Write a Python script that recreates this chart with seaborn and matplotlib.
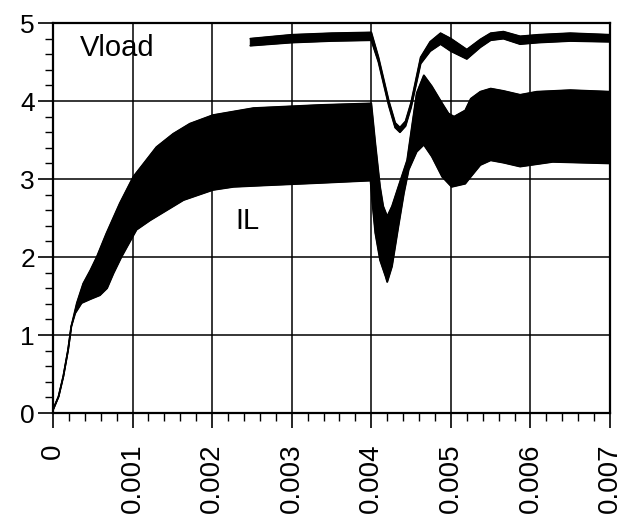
import numpy as np
import matplotlib
matplotlib.use("Agg")
import matplotlib.pyplot as plt
import seaborn as sns
from matplotlib.ticker import MultipleLocator

# IL ripple envelope (upper / lower edge), time in s
il_up_t = [0.0, 0.00007, 0.00013, 0.00019, 0.00023, 0.0003, 0.00038, 0.00047, 0.00055,
           0.00067, 0.00084, 0.00101, 0.00114, 0.0013, 0.00151, 0.00172, 0.00201,
           0.00252, 0.00336, 0.0040, 0.00405, 0.00411, 0.00415, 0.0042, 0.00426,
           0.00434, 0.00445, 0.00451, 0.00457, 0.00466, 0.00476, 0.00489, 0.00497,
           0.00504, 0.00518, 0.00525, 0.00537, 0.0055, 0.00566, 0.00587, 0.00608,
           0.0065, 0.0070]
il_up = [0.04, 0.21, 0.47, 0.81, 1.11, 1.41, 1.66, 1.83, 2.0,
         2.3, 2.69, 3.03, 3.2, 3.41, 3.58, 3.71, 3.82,
         3.91, 3.95, 3.97, 3.46, 2.9, 2.65, 2.52, 2.65,
         2.9, 3.24, 3.67, 4.1, 4.33, 4.19, 3.97, 3.84,
         3.80, 3.88, 4.03, 4.12, 4.16, 4.13, 4.08, 4.12,
         4.14, 4.12]

il_lo_t = [0.0, 0.00007, 0.00013, 0.00019, 0.00023, 0.00028, 0.00036, 0.00047, 0.00059,
           0.00068, 0.00076, 0.00086, 0.00093, 0.00105, 0.00122, 0.00143, 0.00164,
           0.00181, 0.00201, 0.00227, 0.00269, 0.00336, 0.00399, 0.00401, 0.00405,
           0.00411, 0.00418, 0.0042, 0.00426, 0.00434, 0.00441, 0.00447, 0.00457,
           0.00466, 0.00476, 0.00489, 0.00501, 0.00518, 0.00525, 0.00537, 0.0055,
           0.00566, 0.00587, 0.00628, 0.0070]
il_lo = [0.04, 0.21, 0.47, 0.81, 1.11, 1.28, 1.41, 1.46, 1.51,
         1.6, 1.79, 2.0, 2.13, 2.35, 2.47, 2.6, 2.73,
         2.79, 2.86, 2.9, 2.92, 2.95, 2.98, 2.73, 2.31,
         1.96, 1.75, 1.68, 1.88, 2.39, 2.82, 3.12, 3.35,
         3.44, 3.29, 3.03, 2.90, 2.94, 3.03, 3.18, 3.24,
         3.21, 3.16, 3.22, 3.2]

# Vload envelope
vl_t = [0.00248, 0.0030, 0.0035, 0.0040, 0.00409, 0.00422, 0.0043, 0.00436, 0.00443,
        0.0045, 0.00462, 0.00474, 0.00487, 0.0050, 0.0052, 0.00537, 0.0055, 0.00566,
        0.00587, 0.0061, 0.0065, 0.0070]
vl_up = [4.80, 4.85, 4.87, 4.88, 4.56, 4.00, 3.72, 3.66, 3.74,
         3.98, 4.56, 4.76, 4.87, 4.80, 4.66, 4.79, 4.87, 4.89,
         4.83, 4.85, 4.87, 4.85]
vl_lo = [4.71, 4.75, 4.77, 4.78, 4.50, 3.94, 3.66, 3.60, 3.68,
         3.92, 4.48, 4.64, 4.73, 4.64, 4.54, 4.69, 4.78, 4.80,
         4.73, 4.75, 4.77, 4.76]

x_ticks = [0, 0.001, 0.002, 0.003, 0.004, 0.005, 0.006, 0.007]
x_labels = ["0", "0.001", "0.002", "0.003", "0.004", "0.005", "0.006", "0.007"]
y_ticks = [0, 1, 2, 3, 4, 5]

sns.set_style("ticks")
plt.rcParams['font.family'] = ['Liberation Sans', 'DejaVu Sans']
plt.rcParams['text.color'] = 'black'
plt.rcParams['xtick.color'] = 'black'
plt.rcParams['ytick.color'] = 'black'

fig = plt.figure(figsize=(6.27, 5.22), dpi=100)
ax = fig.add_axes([0.0845, 0.2088, 0.8885, 0.747])

# bands: polygon from upper edge then lower edge back
ax.fill(np.concatenate([il_up_t, il_lo_t[::-1]]), np.concatenate([il_up, il_lo[::-1]]),
        color="black", lw=0.8, zorder=3)
ax.fill(np.concatenate([vl_t, vl_t[::-1]]), np.concatenate([vl_up, vl_lo[::-1]]),
        color="black", lw=0.8, zorder=3)
for tt, yy in [(il_up_t, il_up), (il_lo_t, il_lo), (vl_t, vl_up), (vl_t, vl_lo)]:
    sns.lineplot(x=tt, y=yy, ax=ax, color="black", lw=1.3, sort=False, estimator=None,
                 zorder=3, solid_joinstyle="round")

ax.set_xlim(0, 0.007)
ax.set_ylim(0, 5)
ax.set_xticks(x_ticks)
ax.set_xticklabels(x_labels, rotation=90, fontsize=20)
ax.set_yticks(y_ticks)
ax.set_yticklabels([str(v) for v in y_ticks], fontsize=19)
ax.xaxis.set_minor_locator(MultipleLocator(0.0002))
ax.yaxis.set_minor_locator(MultipleLocator(0.2))
ax.tick_params(which="major", length=11, width=1.2, direction="out")
ax.tick_params(which="minor", length=6, width=1.0, direction="out")
ax.tick_params(axis="x", which="major", pad=11)
ax.tick_params(axis="y", which="major", pad=2)
ax.grid(True, which="major", color="black", lw=1.1)
for s in ax.spines.values():
    s.set_color("black")
    s.set_linewidth(1.6)

ax.text(0.00034, 4.68, "Vload", fontsize=21, va="center", ha="left")
ax.text(0.00229, 2.46, "IL", fontsize=21, va="center", ha="left")

fig.savefig("out.png", dpi=100)
